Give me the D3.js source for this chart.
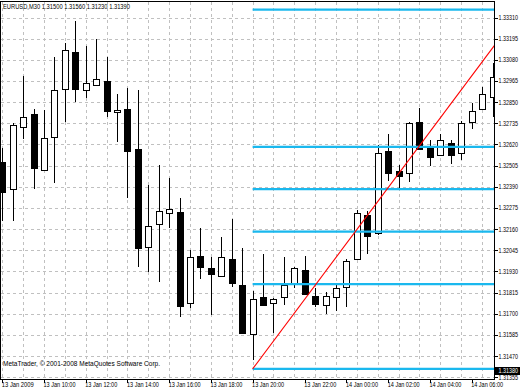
<!DOCTYPE html>
<html><head><meta charset="utf-8">
<script src="https://cdn.jsdelivr.net/npm/d3@7/dist/d3.min.js"></script>
<style>
html,body{margin:0;padding:0;background:#fff;}
svg{display:block;}
text{font-family:"Liberation Sans",Arial,sans-serif;font-size:7px;fill:#000;}
</style></head>
<body>
<svg id="c" width="520" height="390"></svg>
<script>
// ---- data ----
const title = "EURUSD,M30  1.31500 1.31560 1.31230 1.31390";
const copyright = "MetaTrader, \u00A9 2001-2008 MetaQuotes Software Corp.";
const opens  = [1.32525,1.32376,1.32713,1.32784,1.32483,1.32662,1.32923,1.33123,1.32914,1.32943,1.32965,1.32796,1.32814,1.32595,1.32064,1.32186,1.32246,1.32255,1.31757,1.32014,1.31947,1.31903,1.31996,1.31856,1.31588,1.31789,1.31757,1.31789,1.31865,1.31938,1.31796,1.31746,1.31789,1.31844,1.31996,1.32237,1.32137,1.32584,1.32476,1.32463,1.32742,1.32602,1.32563,1.32630,1.32572,1.32742,1.32813,1.32880];
const highs  = [1.32601,1.32737,1.32992,1.32813,1.32807,1.33094,1.33173,1.33291,1.33155,1.33193,1.33097,1.32894,1.32925,1.32916,1.32400,1.32508,1.32439,1.32327,1.32046,1.32164,1.32007,1.32115,1.32213,1.32056,1.31825,1.32025,1.31786,1.32010,1.31956,1.32015,1.31838,1.31817,1.31862,1.31996,1.32264,1.32260,1.32617,1.32675,1.32507,1.32742,1.32817,1.32644,1.32675,1.32644,1.32747,1.32845,1.32932,1.33061];
const lows   = [1.32206,1.32206,1.32650,1.32376,1.32481,1.32412,1.32744,1.32852,1.32874,1.32943,1.32771,1.32632,1.32327,1.31956,1.31925,1.31874,1.32164,1.31681,1.31733,1.31887,1.31693,1.31903,1.31844,1.31595,1.31449,1.31742,1.31597,1.31746,1.31838,1.31805,1.31735,1.31697,1.31717,1.31735,1.31990,1.32025,1.32130,1.32423,1.32380,1.32416,1.32590,1.32505,1.32557,1.32512,1.32536,1.32704,1.32807,1.32771];
const closes = [1.32362,1.32726,1.32771,1.32494,1.32653,1.32914,1.33132,1.32921,1.32952,1.32974,1.32803,1.32807,1.32584,1.32056,1.32177,1.32257,1.32268,1.31744,1.32007,1.31956,1.31916,1.32007,1.31865,1.31597,1.31778,1.31746,1.31778,1.31856,1.31947,1.31807,1.31755,1.31795,1.31838,1.31987,1.32246,1.32124,1.32572,1.32463,1.32450,1.32735,1.32594,1.32553,1.32644,1.32563,1.32735,1.32803,1.32893,1.32988];
const priceTicks = [1.33310,1.33195,1.33080,1.32965,1.32850,1.32735,1.32620,1.32505,1.32390,1.32275,1.32160,1.32045,1.31930,1.31815,1.31700,1.31585,1.31470,1.31355];
const timeTickBars = [0,4,8,12,16,20,24,29,33,37,41,45];
const timeTickLabels = ["13 Jan 2009","13 Jan 10:00","13 Jan 12:00","13 Jan 14:00","13 Jan 16:00","13 Jan 18:00","13 Jan 20:00","13 Jan 22:00","14 Jan 00:00","14 Jan 02:00","14 Jan 04:00","14 Jan 06:00"];
const fibLevels = [1.33353,1.32607,1.32377,1.32146,1.31861,1.31400];
const fibStartBar = 24;
const trendBars = [24,40];
const trendPrices = [1.31400,1.32613];
const currentPrice = 1.31380;

// ---- layout ----
const L=0.5, T=1.5, R=494.5, B=379.5;
const svg=d3.select("#c");
const x=d3.scaleLinear().domain([0,47]).range([2.3,492.5]);
const y=d3.scaleLinear().domain([priceTicks[priceTicks.length-1],priceTicks[0]]).range([377.2,17.5]);
const px=v=>Math.round(v)+0.5;
function fit(sel,w){sel.attr("textLength",w).attr("lengthAdjust","spacingAndGlyphs");}

svg.append("rect").attr("width",520).attr("height",390).attr("fill","#fff");
svg.append("defs").append("clipPath").attr("id","clip").append("rect")
  .attr("x",L).attr("y",T).attr("width",R-L).attr("height",B-T);
const plot=svg.append("g").attr("clip-path","url(#clip)");

// grid
const gridBars=d3.range(0,48,2);
plot.selectAll(".vg").data(gridBars).join("line")
  .attr("x1",d=>px(x(d))).attr("x2",d=>px(x(d))).attr("y1",T).attr("y2",B)
  .attr("stroke","#c0c0c0").attr("stroke-dasharray","3,3").attr("shape-rendering","crispEdges");
plot.selectAll(".hg").data(priceTicks).join("line")
  .attr("y1",d=>px(y(d))).attr("y2",d=>px(y(d))).attr("x1",L).attr("x2",R)
  .attr("stroke","#c0c0c0").attr("stroke-dasharray","3,3").attr("shape-rendering","crispEdges");

// candles
const idx=d3.range(opens.length);
plot.selectAll(".wick").data(idx).join("line")
  .attr("x1",i=>px(x(i))).attr("x2",i=>px(x(i)))
  .attr("y1",i=>Math.round(y(highs[i]))).attr("y2",i=>Math.round(y(lows[i])))
  .attr("stroke","#000").attr("shape-rendering","crispEdges");
plot.selectAll(".body").data(idx).join("rect")
  .attr("x",i=>Math.round(x(i))-3+0.5)
  .attr("width",6)
  .attr("y",i=>Math.round(y(Math.max(opens[i],closes[i])))+0.5)
  .attr("height",i=>Math.max(1,Math.round(y(Math.min(opens[i],closes[i])))-Math.round(y(Math.max(opens[i],closes[i])))))
  .attr("fill",i=>closes[i]<opens[i]?"#000":"#fff")
  .attr("stroke","#000").attr("shape-rendering","crispEdges");

// fibonacci levels
plot.selectAll(".fib").data(fibLevels).join("line")
  .attr("x1",x(fibStartBar)).attr("x2",R)
  .attr("y1",d=>y(d)).attr("y2",d=>y(d))
  .attr("stroke","#1ab8ee").attr("stroke-width",2.2);

// trend line (ray to the right edge)
const x0=x(trendBars[0]), y0=y(trendPrices[0]), x1=x(trendBars[1]), y1=y(trendPrices[1]);
const slope=(y1-y0)/(x1-x0);
plot.append("line").attr("x1",x0).attr("y1",y0).attr("x2",R).attr("y2",y0+slope*(R-x0))
  .attr("stroke","#ff0000").attr("stroke-width",1.1);

// frame
svg.append("rect").attr("x",L).attr("y",T).attr("width",R-L).attr("height",B-T)
  .attr("fill","none").attr("stroke","#000").attr("shape-rendering","crispEdges");

// price axis (labels squeezed horizontally)
const pa=svg.append("g");
pa.selectAll("line").data(priceTicks).join("line")
  .attr("x1",R).attr("x2",R+3).attr("y1",d=>px(y(d))).attr("y2",d=>px(y(d)))
  .attr("stroke","#000").attr("shape-rendering","crispEdges");
pa.selectAll("text").data(priceTicks).join("text")
  .attr("transform",d=>`translate(498.5,${y(d)+2.5}) scale(0.77,1)`).text(d=>d.toFixed(5));

// current price label
const cy=y(currentPrice)-2;
svg.append("rect").attr("x",495).attr("y",Math.round(cy)-4).attr("width",25).attr("height",8).attr("fill","#000");
svg.append("text").attr("transform",`translate(498.5,${cy+2.5}) scale(0.77,1)`).style("fill","#fff").text(currentPrice.toFixed(5));

// time axis
const ta=svg.append("g");
ta.selectAll("line").data(timeTickBars).join("line")
  .attr("x1",d=>px(x(d))).attr("x2",d=>px(x(d))).attr("y1",B).attr("y2",B+3)
  .attr("stroke","#000").attr("shape-rendering","crispEdges");
ta.selectAll("text").data(timeTickBars).join("text")
  .attr("x",d=>x(d)-0.5).attr("y",387).text((d,i)=>timeTickLabels[i]).call(fit,32);

// title + copyright
svg.append("text").attr("x",3).attr("y",9).text(title).call(fit,127);
svg.append("text").attr("x",3).attr("y",366).text(copyright).call(fit,157);
</script>
</body></html>
